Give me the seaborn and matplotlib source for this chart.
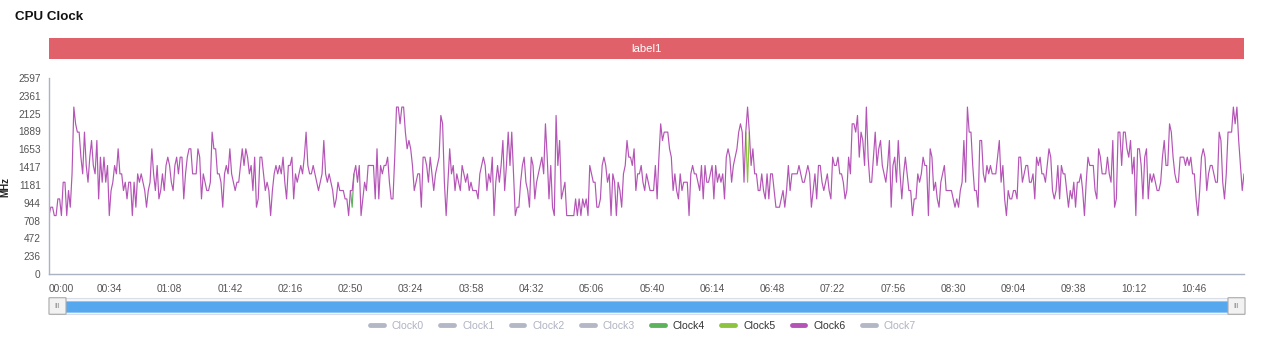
import numpy as np
import pandas as pd
import matplotlib
matplotlib.use('Agg')
import matplotlib.pyplot as plt
import seaborn as sns
from matplotlib.lines import Line2D
from matplotlib.patches import Rectangle, FancyBboxPatch

# frequency steps the trace sits on (MHz)
freq_levels = [774, 885, 995, 1106, 1216, 1327, 1438, 1548, 1659, 1769, 1880, 1990, 2101, 2212]

# Clock6, one sample per second, as index into freq_levels
clock6_steps = [
    # 00:00 - 02:15
    0, 1, 1, 0, 0, 2, 2, 0, 4, 4, 0, 3, 1, 5, 13, 11, 10, 10, 7, 5,
    10, 6, 4, 7, 9, 6, 5, 9, 2, 7, 4, 7, 4, 6, 0, 3, 4, 6, 5, 8,
    5, 5, 3, 4, 2, 4, 4, 0, 4, 1, 5, 4, 5, 4, 3, 1, 3, 4, 8, 5,
    3, 6, 2, 3, 5, 3, 6, 7, 6, 4, 3, 6, 7, 5, 7, 7, 2, 5, 7, 8,
    8, 5, 5, 5, 8, 7, 2, 5, 4, 3, 3, 4, 10, 8, 8, 5, 5, 4, 1, 5,
    6, 5, 8, 5, 4, 3, 4, 4, 6, 8, 6, 8, 7, 5, 6, 3, 7, 1, 2, 7,
    7, 5, 3, 4, 3, 0, 3, 5, 6, 5, 6, 5,
    # 02:15 - 04:30
    7, 4, 2, 6, 6, 7, 2, 5, 4, 5, 6, 5, 7, 10, 6, 5, 5, 6, 5, 4,
    3, 4, 5, 9, 5, 4, 5, 4, 3, 1, 2, 4, 3, 3, 3, 2, 2, 0, 3, 3,
    5, 6, 4, 6, 0, 2, 4, 3, 6, 6, 6, 6, 2, 8, 2, 6, 5, 6, 6, 7,
    4, 2, 2, 7, 13, 13, 11, 13, 13, 10, 8, 9, 8, 6, 3, 4, 5, 5, 1, 7,
    7, 6, 4, 7, 5, 3, 5, 6, 7, 12, 11, 4, 0, 4, 8, 5, 6, 3, 5, 4,
    3, 6, 5, 4, 5, 3, 4, 3, 3, 3, 2, 5, 6, 7, 6, 3, 5, 4, 7, 0,
    4, 6, 4, 6, 9, 3, 6, 10, 6, 10, 5, 0, 1, 1,
    # 04:30 - 06:45
    4, 6, 7, 4, 3, 1, 7, 6, 2, 4, 5, 6, 7, 5, 11, 7, 2, 6, 1, 0,
    12, 6, 9, 2, 3, 4, 0, 0, 0, 0, 0, 2, 0, 2, 0, 2, 1, 2, 0, 6,
    5, 4, 4, 1, 1, 2, 6, 7, 6, 4, 5, 0, 5, 4, 0, 4, 3, 1, 5, 6,
    9, 7, 7, 6, 8, 3, 5, 5, 6, 4, 3, 5, 4, 3, 3, 3, 6, 2, 7, 11,
    9, 10, 10, 10, 8, 7, 3, 5, 3, 2, 5, 3, 4, 4, 4, 0, 5, 6, 5, 5,
    4, 3, 6, 2, 6, 4, 4, 5, 6, 2, 6, 4, 5, 4, 5, 2, 7, 8, 7, 4,
    6, 7, 8, 10, 11, 10, 4, 10, 13, 10, 6, 8, 5, 5, 3, 3,
    # 06:45 - 09:00
    5, 3, 2, 5, 2, 5, 5, 3, 1, 1, 1, 2, 3, 1, 3, 6, 3, 5, 5, 5,
    5, 6, 5, 4, 4, 5, 6, 5, 1, 3, 5, 2, 6, 6, 4, 3, 4, 5, 3, 2,
    7, 6, 6, 7, 5, 5, 4, 2, 3, 7, 5, 11, 11, 10, 12, 7, 10, 9, 6, 13,
    7, 4, 4, 7, 10, 6, 8, 9, 6, 5, 4, 6, 9, 1, 6, 7, 4, 9, 5, 2,
    5, 7, 5, 3, 3, 0, 2, 2, 5, 4, 5, 7, 6, 6, 0, 8, 7, 3, 4, 2,
    1, 4, 5, 6, 3, 3, 3, 3, 2, 1, 2, 1, 3, 4, 9, 4, 13, 10, 10, 6,
    3, 3, 1, 9, 9, 5, 4, 6, 5, 6, 5, 5, 5, 7, 9, 4, 6, 2,
    # 09:00 - end
    0, 3, 2, 2, 3, 3, 2, 7, 7, 4, 5, 6, 6, 4, 4, 5, 2, 7, 6, 7,
    5, 5, 4, 6, 8, 7, 3, 2, 3, 6, 2, 6, 5, 5, 3, 1, 3, 2, 4, 1,
    4, 4, 5, 3, 0, 4, 7, 6, 6, 6, 3, 2, 8, 7, 5, 5, 5, 7, 5, 4,
    9, 1, 2, 10, 10, 6, 10, 10, 8, 7, 9, 5, 7, 0, 8, 8, 6, 2, 7, 8,
    2, 5, 4, 5, 4, 3, 3, 4, 7, 9, 6, 6, 11, 10, 7, 5, 4, 4, 7, 7,
    7, 6, 7, 6, 7, 5, 5, 2, 0, 3, 7, 8, 7, 3, 5, 6, 6, 5, 4, 4,
    10, 9, 4, 2, 5, 10, 10, 10, 13, 11, 13, 9, 6, 3, 5,
]

# Clock4 / Clock5 run under Clock6 and only show where they differ
clock4_diff = {171: 1}
clock5_diff = {394: 4}

legend_names = ['Clock0', 'Clock1', 'Clock2', 'Clock3', 'Clock4', 'Clock5', 'Clock6', 'Clock7']
shown = ['Clock4', 'Clock5', 'Clock6']
colors = {'Clock4': '#5cb35c', 'Clock5': '#8cc43f', 'Clock6': '#b454b6'}
off_color = '#b4b7c6'

y_ticks = [0, 236, 472, 708, 944, 1181, 1417, 1653, 1889, 2125, 2361, 2597]
x_tick_step = 34  # seconds

# build the long table; the under-lying clocks are kept only around the
# samples where they leave Clock6 (elsewhere they are hidden by it anyway)
n = len(clock6_steps)
rows = []
for name, diff in [('Clock4', clock4_diff), ('Clock5', clock5_diff), ('Clock6', {})]:
    for i, k in enumerate(clock6_steps):
        if name != 'Clock6' and not any(abs(i - j) <= 1 for j in diff):
            continue
        k = diff.get(i, k)
        rows.append({'t': i, 'MHz': freq_levels[k], 'clock': name})
data = pd.DataFrame(rows)

sns.set_style('white')
plt.rcParams['font.family'] = ['Liberation Sans', 'DejaVu Sans']

W, H = 1268, 352
fig = plt.figure(figsize=(W / 100, H / 100), dpi=100)

def fx(px):
    return px / W

def fy(py):
    return 1 - py / H

ax = fig.add_axes([fx(49), fy(274), fx(1244) - fx(49), fy(78) - fy(274)])
sns.lineplot(data=data, x='t', y='MHz', hue='clock', hue_order=shown, palette=colors,
             linewidth=0.85, estimator=None, sort=False, legend=False, ax=ax)

axis_col = '#aab2c4'
ax.set_xlim(0, n - 1)
ax.set_ylim(0, y_ticks[-1])
ax.set_yticks(y_ticks)
ax.set_yticklabels([str(v) for v in y_ticks])
xt = list(range(0, n, x_tick_step))
ax.set_xticks(xt)
ax.set_xticklabels(['%02d:%02d' % (s // 60, s % 60) for s in xt])
ax.get_xticklabels()[0].set_ha('left')
ax.set_xlabel('')
ax.set_ylabel('')
for s in ['top', 'right']:
    ax.spines[s].set_visible(False)
for s in ['left', 'bottom']:
    ax.spines[s].set_color(axis_col)
    ax.spines[s].set_linewidth(1.0)
ax.tick_params(axis='both', colors=axis_col, labelcolor='#555555', labelsize=7.3,
               length=4, width=0.8, direction='out')
ax.tick_params(axis='x', pad=3)
ax.tick_params(axis='y', pad=2)

# title and y unit
fig.text(fx(15), fy(17), 'CPU Clock', fontsize=9.6, fontweight='bold', color='#111111', va='center')
fig.text(fx(5), fy(187), 'MHz', fontsize=7, fontweight='bold', color='#222222',
         rotation=90, va='center', ha='center')

# red label band
fig.patches.append(Rectangle((fx(49), fy(59)), fx(1244) - fx(49), fy(38) - fy(59),
                             transform=fig.transFigure, facecolor='#e0616a', edgecolor='none'))
fig.text(fx(646), fy(48.5), 'label1', color='white', fontsize=8.2, ha='center', va='center')

# zoom slider under the axis
fig.patches.append(Rectangle((fx(50), fy(314)), fx(1244) - fx(50), fy(298) - fy(314),
                             transform=fig.transFigure, facecolor='#f4f6f9', edgecolor='#d8dde6', lw=0.8))
fig.patches.append(Rectangle((fx(58), fy(312)), fx(1236) - fx(58), fy(301) - fy(312),
                             transform=fig.transFigure, facecolor='#56a8ee', edgecolor='#8cc4f4', lw=0.6))
for hx in [50, 1229]:
    fig.patches.append(FancyBboxPatch((fx(hx), fy(314)), fx(15), fy(298) - fy(314),
                                      boxstyle='round,pad=0.0008', transform=fig.transFigure,
                                      facecolor='#f2f2f2', edgecolor='#a9a9a9', lw=0.8))
    fig.text(fx(hx + 7.5), fy(306), 'III', fontsize=5, color='#888888', ha='center', va='center')

# legend
handles = []
for name in legend_names:
    c = colors[name] if name in shown else off_color
    handles.append(Line2D([0], [0], color=c, lw=3.5, solid_capstyle='round'))
leg = fig.legend(handles, legend_names, loc='center', bbox_to_anchor=(fx(643), fy(326)),
                 ncol=8, frameon=False, fontsize=7.6, handlelength=1.3, handletextpad=0.75,
                 columnspacing=1.55, borderpad=0)
for txt, name in zip(leg.get_texts(), legend_names):
    txt.set_color('#333333' if name in shown else '#b0b3c2')

fig.savefig('out.png', dpi=100)
